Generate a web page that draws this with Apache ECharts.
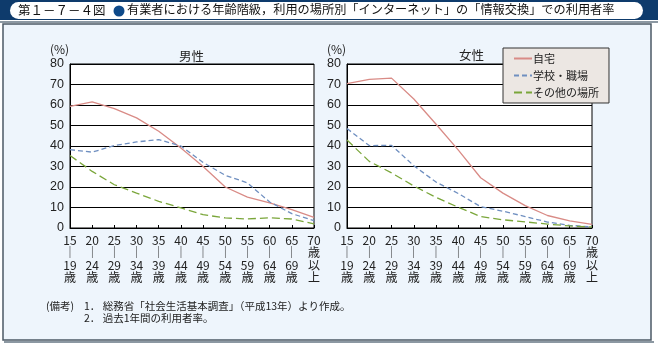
<!DOCTYPE html>
<html><head><meta charset="utf-8">
<script src="https://cdn.jsdelivr.net/npm/echarts@6/dist/echarts.min.js"></script>
<style>html,body{margin:0;padding:0;background:#fff}#c{width:658px;height:346px}</style>
</head><body><div id="c"></div>
<script>
const categories = ['15\n｜\n19\n歳','20\n｜\n24\n歳','25\n｜\n29\n歳','30\n｜\n34\n歳','35\n｜\n39\n歳','40\n｜\n44\n歳','45\n｜\n49\n歳','50\n｜\n54\n歳','55\n｜\n59\n歳','60\n｜\n64\n歳','65\n｜\n69\n歳','70\n歳\n以\n上'];
const seriesNames = ['自宅','学校・職場','その他の場所'];
const maleHome   = [59.3, 61.5, 58.2, 53.7, 47.2, 39.0, 30.0, 20.0, 15.1, 12.2, 9.0, 5.2];
const maleWork   = [38.2, 37.0, 40.2, 42.0, 43.1, 40.0, 32.0, 25.7, 22.0, 12.7, 7.0, 3.6];
const maleOther  = [35.4, 27.6, 21.1, 17.0, 13.0, 9.8, 6.5, 4.9, 4.4, 5.0, 4.4, 2.0];
const femHome    = [70.4, 72.5, 73.1, 62.9, 50.6, 38.0, 24.5, 17.0, 10.9, 6.1, 3.5, 1.8];
const femWork    = [48.5, 40.2, 40.3, 30.4, 22.4, 16.8, 10.4, 8.2, 5.6, 2.9, 1.3, 0.5];
const femOther   = [42.9, 32.5, 26.9, 20.5, 14.9, 10.1, 5.6, 4.0, 3.0, 1.9, 1.0, 0.5];
const yTicks = [0,10,20,30,40,50,60,70,80];

const FONT = '"Noto Sans CJK JP","Noto Sans",sans-serif';
const colors = ['#d98b86','#6f8fc0','#7aa63a'];
const styles = ['solid',[5,3],[8,4]];

const chart = echarts.init(document.getElementById('c'), null, {renderer:'canvas'});
function xAxis(i){return {type:'category',gridIndex:i,data:categories,boundaryGap:false,
  axisLine:{lineStyle:{color:'#000',width:1}},
  axisTick:{inside:true,length:3,lineStyle:{color:'#000'}},
  axisLabel:{color:'#222',fontSize:12,fontFamily:FONT,lineHeight:12.5,margin:6,interval:0}};}
function yAxis(i){return {type:'value',gridIndex:i,min:yTicks[0],max:yTicks[yTicks.length-1],interval:10,
  axisLine:{show:true,lineStyle:{color:'#000'}},axisTick:{show:false},
  splitLine:{lineStyle:{color:'#000',width:1}},
  axisLabel:{color:'#222',fontSize:12.5,fontFamily:'"Liberation Sans",Arial,sans-serif',margin:6}};}
function mk(name,data,k,gi){return {name:name,type:'line',xAxisIndex:gi,yAxisIndex:gi,data:data,symbol:'none',
  lineStyle:{color:colors[k],width:1.3,type:styles[k]},itemStyle:{color:colors[k]},silent:true};}

chart.setOption({
  animation:false,
  backgroundColor:'#ffffff',
  graphic:[
    {type:'rect',shape:{x:0,y:0,width:658,height:20},style:{fill:'#0e3b6c'},z:-10},
    {type:'rect',shape:{x:10,y:2,width:633,height:17,r:8.5},style:{fill:'#ffffff'},z:-9},
    {type:'text',left:18,top:3.5,style:{text:'第１－７－４図',fontSize:12.5,fontFamily:FONT,fill:'#111'},z:-8},
    {type:'circle',shape:{cx:119,cy:11,r:5.5},style:{fill:'#0e4a8a'},z:-8},
    {type:'text',left:127,top:3.5,style:{text:'有業者における年齢階級，利用の場所別「インターネット」の「情報交換」での利用者率',fontSize:12.2,fontFamily:FONT,fill:'#111'},z:-8},
    {type:'rect',shape:{x:0,y:21,width:658,height:2},style:{fill:'#8c98a2'},z:-10},
    {type:'rect',shape:{x:3,y:24,width:648,height:316},style:{fill:'#eef5fc',stroke:'#4c5a66',lineWidth:1.5},z:-10},
    {type:'rect',shape:{x:4,y:341,width:650,height:2},style:{fill:'#8c98a2'},z:-10},
    {type:'text',left:50,top:43,style:{text:'(%)',fontSize:12,fontFamily:FONT,fill:'#222'}},
    {type:'text',left:327,top:43,style:{text:'(%)',fontSize:12,fontFamily:FONT,fill:'#222'}},
    {type:'text',left:46,top:301,style:{text:'(備考)',fontSize:10.5,fontFamily:FONT,fill:'#222'}},
    {type:'text',left:84,top:301,style:{text:'1． 総務省「社会生活基本調査」（平成13年）より作成。',fontSize:10.5,fontFamily:FONT,fill:'#222'}},
    {type:'text',left:84,top:313,style:{text:'2． 過去1年間の利用者率。',fontSize:10.5,fontFamily:FONT,fill:'#222'}}
  ],
  title:[
    {text:'男性',left:179,top:50,textStyle:{fontSize:12.5,fontWeight:'normal',fontFamily:FONT,color:'#222'},padding:0},
    {text:'女性',left:459,top:49,textStyle:{fontSize:12.5,fontWeight:'normal',fontFamily:FONT,color:'#222'},padding:0}
  ],
  legend:{data:seriesNames,orient:'vertical',left:503,top:48,
    backgroundColor:'#ece7e3',borderColor:'#333',borderWidth:1,padding:[5,10,5,10],
    itemWidth:18,itemHeight:8,itemGap:6,
    itemStyle:{opacity:0},
    textStyle:{fontSize:11,fontFamily:FONT,color:'#222',padding:[0,0,0,-4]}},
  grid:[
    {left:70,top:64,width:244,height:164,show:true,backgroundColor:'#fff',borderColor:'#000',borderWidth:1},
    {left:347,top:64,width:245,height:164,show:true,backgroundColor:'#fff',borderColor:'#000',borderWidth:1}
  ],
  xAxis:[xAxis(0),xAxis(1)],
  yAxis:[yAxis(0),yAxis(1)],
  series:[
    mk(seriesNames[0],maleHome,0,0),mk(seriesNames[1],maleWork,1,0),mk(seriesNames[2],maleOther,2,0),
    mk(seriesNames[0],femHome,0,1),mk(seriesNames[1],femWork,1,1),mk(seriesNames[2],femOther,2,1)
  ]
});
</script></body></html>
